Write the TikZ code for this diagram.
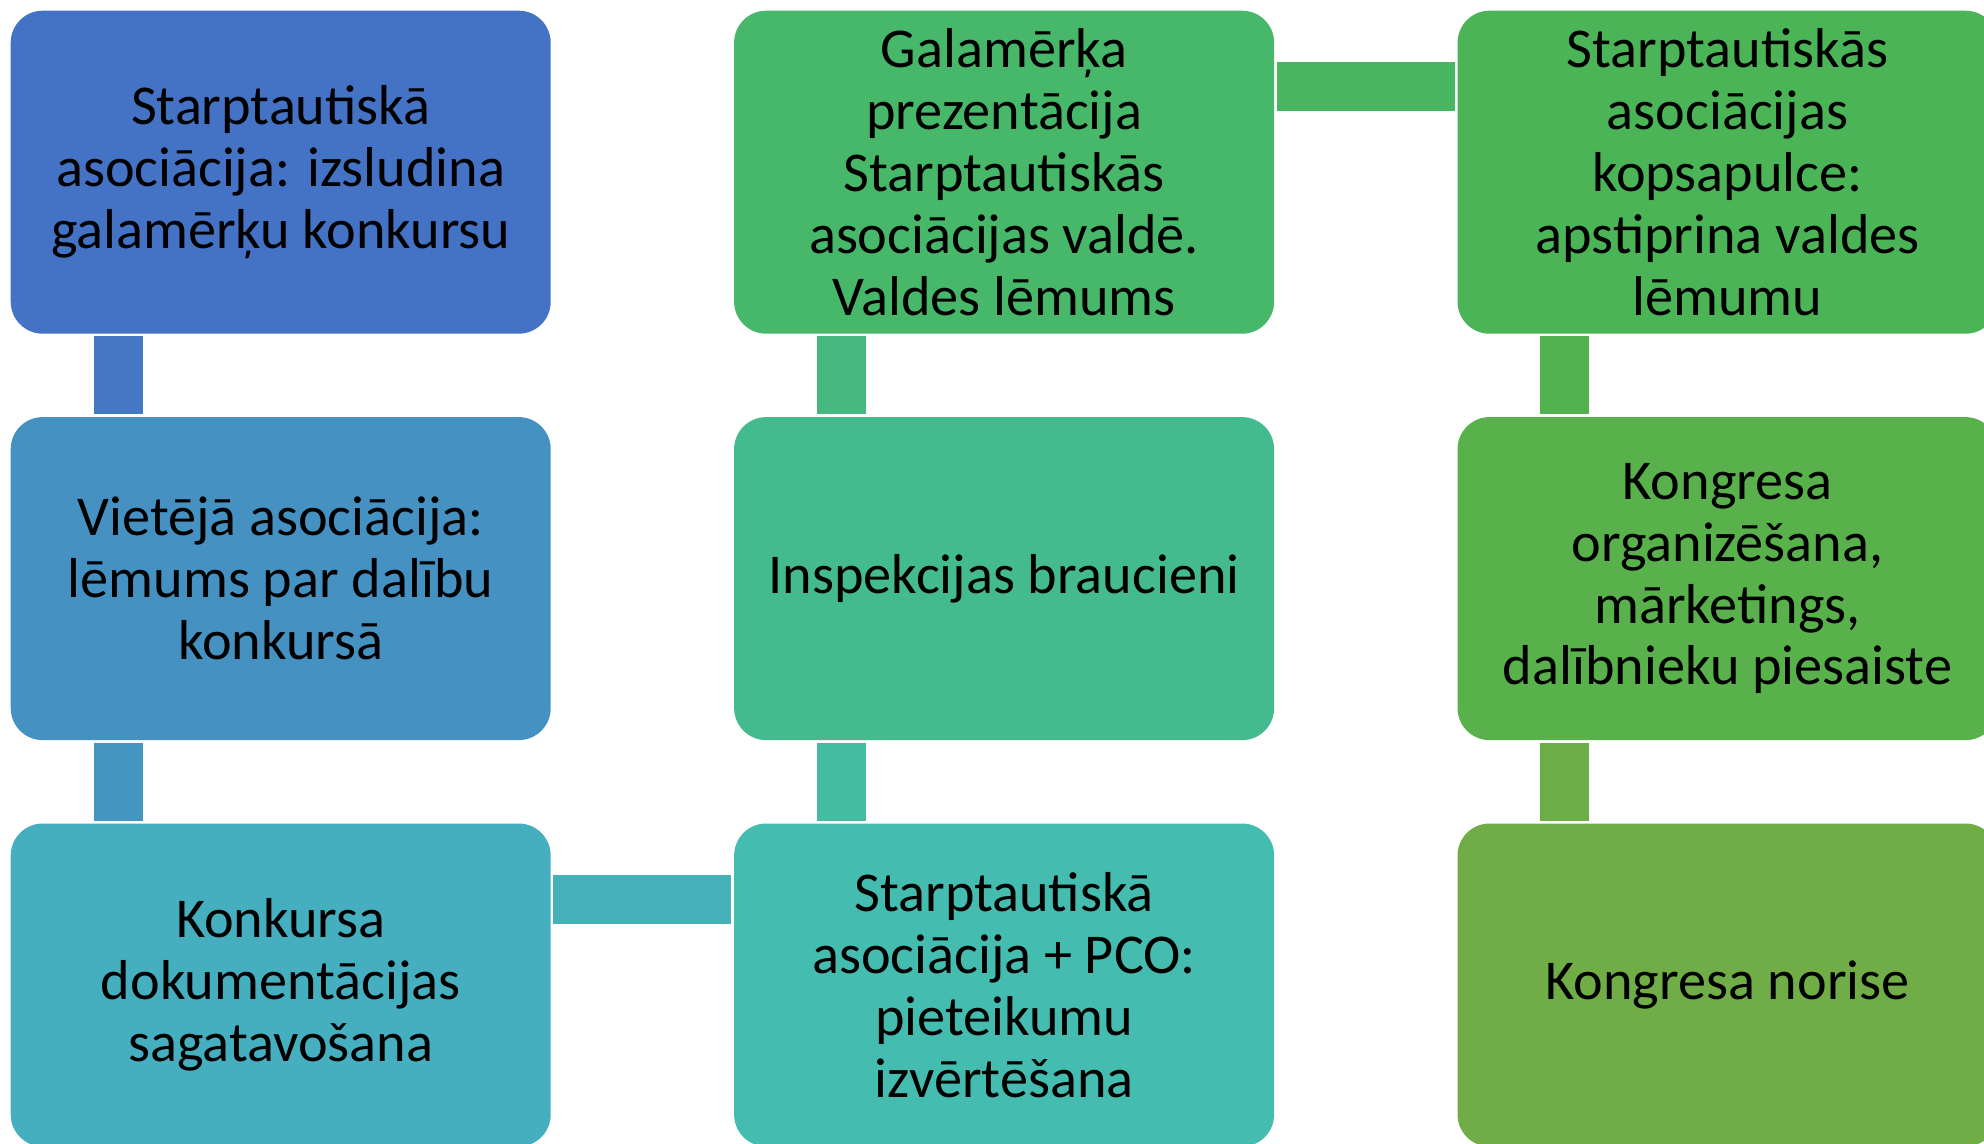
\documentclass[tikz,border=0pt]{standalone}
\usepackage{fontspec}
\setmainfont{Carlito}
\usetikzlibrary{positioning}

\definecolor{c1}{HTML}{4472C4}
\definecolor{c2}{HTML}{4591C1}
\definecolor{c3}{HTML}{45AEBF}
\definecolor{c4}{HTML}{44BCAF}
\definecolor{c5}{HTML}{44BB8E}
\definecolor{c6}{HTML}{47B76A}
\definecolor{c7}{HTML}{4BB456}
\definecolor{c8}{HTML}{58B14A}
\definecolor{c9}{HTML}{70AD47}

\begin{document}
\begin{tikzpicture}[node distance=0.82cm and 1.82cm]
        \tikzstyle{every node}=[rectangle, rounded corners=0.32cm, minimum width=5.4cm, minimum height=3.23cm, inner sep=0pt, align=center, font=\fontsize{16}{17.6}\selectfont]
        \tikzstyle{joint}=[line width=0.49cm, shorten <=0.02cm, shorten >=0.02cm]
        \useasboundingbox (0,0) rectangle (19.84,-11.44);
        \clip (0,0) rectangle (19.84,-11.44);
        % first column, going down
        \node[fill=c1, anchor=north west] (izsludina) at (0.1,-0.1) {Starptautiskā\\asociācija: izsludina\\galamērķu konkursu};
        \node[fill=c2, below=of izsludina] (lemums) {Vietējā asociācija:\\lēmums par dalību\\konkursā};
        \node[fill=c3, below=of lemums] (dokumenti) {Konkursa\\dokumentācijas\\sagatavošana};
        % second column, going up
        \node[fill=c4, right=of dokumenti] (izvertesana) {Starptautiskā\\asociācija + PCO:\\pieteikumu\\izvērtēšana};
        \node[fill=c5, above=of izvertesana] (inspekcija) {Inspekcijas braucieni};
        \node[fill=c6, above=of inspekcija] (valde) {Galamērķa\\prezentācija\\Starptautiskās\\asociācijas valdē.\\Valdes lēmums};
        % third column, going down
        \node[fill=c7, right=of valde] (kopsapulce) {Starptautiskās\\asociācijas\\kopsapulce:\\apstiprina valdes\\lēmumu};
        \node[fill=c8, below=of kopsapulce] (organizesana) {Kongresa\\organizēšana,\\mārketings,\\dalībnieku piesaiste};
        \node[fill=c9, below=of organizesana] (norise) {Kongresa norise};
        % connectors
        \draw[joint, c1!85!c2] ([xshift=1.08cm]izsludina.south west) -- ([xshift=1.08cm]lemums.north west);
        \draw[joint, c2!85!c3] ([xshift=1.08cm]lemums.south west) -- ([xshift=1.08cm]dokumenti.north west);
        \draw[joint, c3!70!c4] ([yshift=-0.77cm]dokumenti.north east) -- ([yshift=-0.77cm]izvertesana.north west);
        \draw[joint, c4!60!c5] ([xshift=1.08cm]izvertesana.north west) -- ([xshift=1.08cm]inspekcija.south west);
        \draw[joint, c5!60!c6] ([xshift=1.08cm]inspekcija.north west) -- ([xshift=1.08cm]valde.south west);
        \draw[joint, c6!60!c7] ([yshift=-0.77cm]valde.north east) -- ([yshift=-0.77cm]kopsapulce.north west);
        \draw[joint, c7!50!c8] ([xshift=1.08cm]kopsapulce.south west) -- ([xshift=1.08cm]organizesana.north west);
        \draw[joint, c8!20!c9] ([xshift=1.08cm]organizesana.south west) -- ([xshift=1.08cm]norise.north west);
\end{tikzpicture}
\end{document}
